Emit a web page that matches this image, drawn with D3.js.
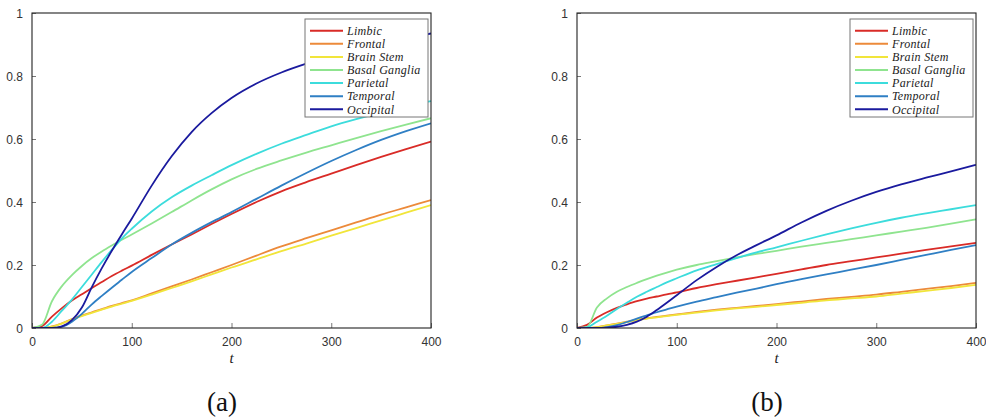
<!DOCTYPE html>
<html><head><meta charset="utf-8">
<script src="https://cdn.jsdelivr.net/npm/d3@7"></script>
<style>html,body{margin:0;padding:0;background:#fff;}svg{display:block;}</style>
</head><body>
<svg id="chart" width="986" height="419"></svg>
<script>
// ---- data ----
const times = [0,10,20,30,40,50,60,70,80,90,100,120,140,160,180,200,225,250,275,300,325,350,375,400];
const regions = ["Limbic","Frontal","Brain Stem","Basal Ganglia","Parietal","Temporal","Occipital"];
const colors = ["#d92b27","#ec8a3a","#f1e53a","#8fe48f","#3cdcdc","#2f7fc4","#1a1a9e"];
const xTicks = [0,100,200,300,400];
const yTicks = [0,0.2,0.4,0.6,0.8,1];
const yTickLabels = ["0","0.2","0.4","0.6","0.8","1"];
const panelLabels = ["(a)","(b)"];

// panel (a)
const limbicA   = [0,0.006,0.036,0.063,0.087,0.107,0.127,0.146,0.165,0.182,0.198,0.232,0.265,0.297,0.33,0.362,0.4,0.434,0.463,0.49,0.517,0.543,0.568,0.592];
const frontalA  = [0,0,0.005,0.015,0.028,0.04,0.05,0.06,0.07,0.079,0.088,0.11,0.132,0.154,0.177,0.2,0.23,0.259,0.285,0.31,0.335,0.36,0.383,0.406];
const brainA    = [0,0,0.004,0.014,0.027,0.038,0.048,0.058,0.068,0.077,0.086,0.106,0.127,0.148,0.17,0.192,0.218,0.244,0.268,0.293,0.317,0.342,0.366,0.39];
const basalA    = [0,0.01,0.085,0.133,0.168,0.197,0.222,0.243,0.262,0.28,0.297,0.332,0.368,0.405,0.44,0.472,0.505,0.532,0.557,0.58,0.603,0.625,0.646,0.666];
const parietalA = [0,0,0.02,0.055,0.09,0.13,0.17,0.21,0.248,0.284,0.315,0.37,0.415,0.452,0.485,0.517,0.553,0.585,0.613,0.64,0.663,0.684,0.703,0.72];
const temporalA = [0,0,0,0.004,0.02,0.045,0.075,0.102,0.128,0.153,0.178,0.222,0.265,0.302,0.336,0.368,0.41,0.452,0.492,0.53,0.565,0.597,0.625,0.65];
const occipitalA= [0,0,0,0.005,0.025,0.065,0.13,0.19,0.245,0.297,0.347,0.452,0.545,0.622,0.682,0.73,0.776,0.811,0.839,0.863,0.884,0.902,0.919,0.935];

// panel (b)
const limbicB   = [0,0.01,0.033,0.05,0.064,0.075,0.085,0.093,0.1,0.107,0.113,0.127,0.139,0.15,0.161,0.172,0.186,0.2,0.212,0.224,0.236,0.248,0.259,0.27];
const frontalB  = [0,0,0.003,0.008,0.014,0.02,0.026,0.031,0.035,0.039,0.043,0.051,0.058,0.064,0.07,0.076,0.084,0.092,0.099,0.106,0.115,0.124,0.133,0.143];
const brainB    = [0,0,0.003,0.008,0.013,0.019,0.025,0.03,0.034,0.038,0.042,0.049,0.056,0.062,0.067,0.073,0.08,0.088,0.094,0.1,0.109,0.118,0.127,0.137];
const basalB    = [0,0.003,0.065,0.094,0.115,0.13,0.143,0.155,0.166,0.176,0.185,0.2,0.212,0.224,0.235,0.245,0.258,0.27,0.282,0.294,0.306,0.318,0.331,0.345];
const parietalB = [0,0.002,0.02,0.039,0.06,0.08,0.099,0.115,0.13,0.145,0.158,0.183,0.203,0.222,0.24,0.256,0.277,0.297,0.316,0.334,0.35,0.364,0.377,0.39];
const temporalB = [0,0,0,0.003,0.009,0.019,0.03,0.04,0.05,0.059,0.068,0.084,0.098,0.112,0.125,0.139,0.155,0.17,0.185,0.2,0.216,0.232,0.248,0.263];
const occipitalB= [0,0,0,0.001,0.004,0.01,0.02,0.036,0.057,0.08,0.104,0.152,0.194,0.231,0.263,0.294,0.335,0.372,0.404,0.432,0.456,0.477,0.497,0.518];

const panelsData = [
  [limbicA,frontalA,brainA,basalA,parietalA,temporalA,occipitalA],
  [limbicB,frontalB,brainB,basalB,parietalB,temporalB,occipitalB]
];

// ---- layout ----
const svg = d3.select("#chart");
const panels = [
  {x0:32, x1:431, y0:13, y1:328, labelX:222},
  {x0:577, x1:976, y0:13, y1:328, labelX:767}
];
const SERIF = '"Liberation Serif"';
const SANS = '"Liberation Sans"';

panels.forEach((p, pi) => {
  const x = d3.scaleLinear().domain([0,400]).range([p.x0,p.x1]);
  const y = d3.scaleLinear().domain([0,1]).range([p.y1,p.y0]);
  const g = svg.append("g");

  const clipId = "clip"+pi;
  svg.append("clipPath").attr("id",clipId).append("rect")
    .attr("x",p.x0).attr("y",p.y0).attr("width",p.x1-p.x0).attr("height",p.y1-p.y0);

  const xAxis = d3.axisBottom(x).tickValues(xTicks).tickSizeInner(-5).tickSizeOuter(0).tickPadding(11).tickFormat(d3.format("d"));
  const yAxis = d3.axisLeft(y).tickValues(yTicks).tickSizeInner(-4).tickSizeOuter(0).tickPadding(9).tickFormat((d,i)=>yTickLabels[i]);
  const gx = g.append("g").attr("transform",`translate(0,${p.y1})`).call(xAxis);
  const gy = g.append("g").attr("transform",`translate(${p.x0},0)`).call(yAxis);
  [gx,gy].forEach(a=>{
    a.select(".domain").remove();
    a.selectAll(".tick line").attr("stroke","#555").attr("stroke-width",0.8);
    a.selectAll(".tick text").attr("fill","#333").style("font-family",SANS).style("font-size","12px");
  });
  gx.selectAll(".tick text").attr("dy","0.6em");
  gy.selectAll(".tick text").attr("dy","0.35em");

  const line = d3.line().x((d,i)=>x(times[i])).y(d=>y(d)).curve(d3.curveMonotoneX);
  const lg = g.append("g").attr("clip-path",`url(#${clipId})`);
  panelsData[pi].forEach((vals, si) => {
    lg.append("path").datum(vals).attr("d",line)
      .attr("fill","none").attr("stroke",colors[si]).attr("stroke-width",1.8);
  });

  g.append("rect").attr("x",p.x0).attr("y",p.y0).attr("width",p.x1-p.x0).attr("height",p.y1-p.y0)
    .attr("fill","none").attr("stroke","#222").attr("stroke-width",1.1);

  // legend
  const lx = p.x1-126, ly = 19, lw = 123, lh = 98;
  const leg = g.append("g");
  leg.append("rect").attr("x",lx).attr("y",ly).attr("width",lw).attr("height",lh)
    .attr("fill","#fff").attr("stroke","#777").attr("stroke-width",1);
  regions.forEach((r, i) => {
    const yy = 30.7 + i*13.1;
    leg.append("line").attr("x1",lx+5).attr("x2",lx+38).attr("y1",yy).attr("y2",yy)
      .attr("stroke",colors[i]).attr("stroke-width",2);
    leg.append("text").attr("x",lx+42).attr("y",yy).attr("dy","0.35em")
      .style("font-family",SERIF).style("font-style","italic").style("font-size","12px")
      .style("letter-spacing","0.3px").attr("fill","#222").text(r);
  });

  g.append("text").attr("x",(p.x0+p.x1)/2).attr("y",363).attr("text-anchor","middle")
    .style("font-family",SERIF).style("font-style","italic").style("font-size","15px").attr("fill","#222").text("t");

  g.append("text").attr("x",p.labelX).attr("y",411).attr("text-anchor","middle")
    .style("font-family",SERIF).style("font-size","27px").attr("fill","#111").text(panelLabels[pi]);
});
</script>
</body></html>
